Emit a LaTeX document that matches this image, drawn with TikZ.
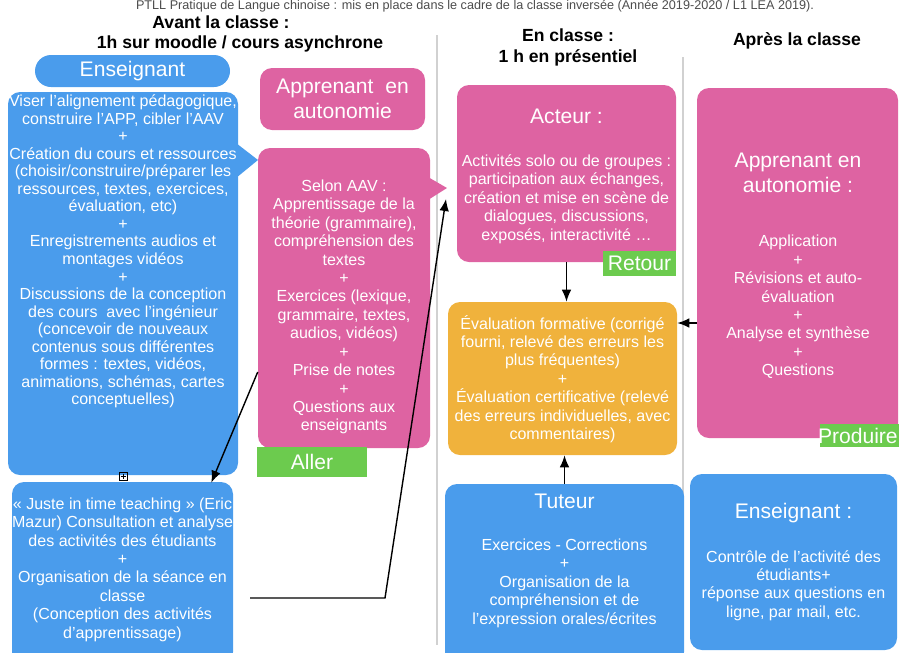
\documentclass[tikz,border=0pt]{standalone}
\usepackage{fontspec}
\setmainfont{Liberation Sans}
\usetikzlibrary{fit,calc,arrows.meta}

\definecolor{bleu}{HTML}{4A9CEC}
\definecolor{rose}{HTML}{DE63A2}
\definecolor{ocre}{HTML}{F0B23C}
\definecolor{vert}{HTML}{6CCB4E}

\tikzset{
  boite/.style={rounded corners=3mm, inner sep=0pt, draw=none},
  corps/.style={text=white, align=center, inner sep=0pt, font=\fontsize{11.4}{13.1}\selectfont},
  titre/.style={text=white, align=center, inner sep=0pt, font=\fontsize{15}{17.7}\selectfont},
  entete/.style={align=center, inner sep=0pt, font=\fontsize{12.5}{15}\selectfont\bfseries},
  onglet/.style={fill=vert, inner sep=0pt, draw=none},
  fleche/.style={-{Latex[length=3mm,width=2.4mm]}, line width=1pt},
  sep/.style={draw=black!18, line width=0.8pt}
}

\begin{document}
\begin{tikzpicture}[x=0.025cm, y=-0.025cm]
\useasboundingbox (0,0) rectangle (899,652);

% legende
\node[anchor=base, inner sep=0pt, text=black!70, font=\fontsize{9}{10}\selectfont] (legende) at (475,9.5)
  {PTLL Pratique de Langue chinoise : mis en place dans le cadre de la classe inversée (Année 2019-2020 / L1 LEA 2019).};

% en-tetes
\node[entete] (avant) at (221,22) {Avant la classe :};
\node[entete] (moodle) at (240,44) {1h sur moodle / cours asynchrone};
\node[entete] (enclasse) at (568,47.5) {En classe :\\1 h en présentiel};
\node[entete] (apres) at (797,41) {Après la classe};

% separateurs
\draw[sep] (437,35) -- (437,645);
\draw[sep] (683,57) -- (683,645);

% avant la classe : enseignant
\node[boite, fill=bleu, rounded corners=4mm, fit={(35,55) (230,87)}] (ens) {};
\node[titre] (ens-t) at (ens) {Enseignant};
\node[boite, fill=bleu, fit={(8,92) (238,475)}] (prep) {};
\fill[bleu] (236,143) -- (258,160) -- (236,178) -- cycle;
\node[corps, font=\fontsize{11.4}{12.45}\selectfont] (prep-t) at (123,251.5)
  {Viser l’alignement pédagogique,\\construire l’APP, cibler l’AAV\\+\\Création du cours et ressources\\(choisir/construire/préparer les\\ressources, textes, exercices,\\évaluation, etc)\\+\\Enregistrements audios et\\montages vidéos\\+\\Discussions de la conception\\des cours\ \ avec l’ingénieur\\(concevoir de nouveaux\\contenus sous différentes\\formes : textes, vidéos,\\animations, schémas, cartes\\conceptuelles)};
\draw[line width=0.4pt] (119,472) rectangle (127,480) (123,473.5) -- (123,478.5) (120.5,476) -- (125.5,476);

\node[boite, fill=bleu, fit={(12,482) (233,664)}] (jitt) {};
\node[corps] (jitt-t) at (122.5,569.5)
  {« Juste in time teaching » (Eric\\Mazur) Consultation et analyse\\des activités des étudiants\\+\\Organisation de la séance en\\classe\\(Conception des activités\\d’apprentissage)};

% avant la classe : apprenant
\node[boite, fill=rose, fit={(260,68) (425,130)}] (app1) {};
\node[titre] (app1-t) at (app1) {Apprenant\ \ en\\autonomie};
\node[boite, fill=rose, fit={(258,148) (430,448)}] (app2) {};
\fill[rose] (428,177) -- (447,188) -- (428,200) -- cycle;
\coordinate (ptr2) at (446,199);
\node[corps] (app2-t) at (344,307)
  {Selon AAV :\\Apprentissage de la\\théorie (grammaire),\\compréhension des\\textes\\+\\Exercices (lexique,\\grammaire, textes,\\audios, vidéos)\\+\\Prise de notes\\+\\Questions aux\\enseignants};
\node[onglet, fit={(257,447) (367,477)}] (aller) {};
\node[titre] (aller-t) at (aller) {Aller};

% en classe
\node[boite, fill=rose, fit={(457,85) (676,262)}] (acteur) {};
\node[titre] (acteur-t) at (566.5,116) {Acteur :};
\node[corps] (acteur-c) at (566.5,199)
  {Activités solo ou de groupes :\\participation aux échanges,\\création et mise en scène de\\dialogues, discussions,\\exposés, interactivité …};
\node[onglet, fit={(603,251) (676,276)}] (retour) {};
\node[titre] (retour-t) at (retour) {Retour};

\node[boite, fill=ocre, fit={(448,302) (677,455)}] (eval) {};
\node[corps] (eval-t) at (562.5,379)
  {Évaluation formative (corrigé\\fourni, relevé des erreurs les\\plus fréquentes)\\+\\Évaluation certificative (relevé\\des erreurs individuelles, avec\\commentaires)};

\node[boite, fill=bleu, fit={(445,484) (684,664)}] (tuteur) {};
\node[titre] (tuteur-t) at (564.5,501) {Tuteur};
\node[corps] (tuteur-c) at (564.5,583)
  {Exercices - Corrections\\+\\Organisation de la\\compréhension et de\\l’expression orales/écrites};

% apres la classe
\node[boite, fill=rose, fit={(697,88) (898,438)}] (app3) {};
\node[titre] (app3-t) at (798,172.5) {Apprenant en\\autonomie :};
\node[corps] (app3-c) at (798,307)
  {Application\\+\\Révisions et auto-\\évaluation\\+\\Analyse et synthèse\\+\\Questions};
\node[onglet, fit={(820,424) (905,447)}] (produire) {};
\node[titre, anchor=east] (produire-t) at (898,435.5) {Produire};

\node[boite, fill=bleu, fit={(690,474) (897,650)}] (ens2) {};
\node[titre] (ens2-t) at (793.5,513) {Enseignant :};
\node[corps] (ens2-c) at (793.5,585.5)
  {Contrôle de l’activité des\\étudiants+\\réponse aux questions en\\ligne, par mail, etc.};

% connecteurs
\draw[fleche] (app2.west |- 0,372) -- ($(jitt.north east)+(-22,1)$);
\coordinate (depart) at (250,598);
\draw[fleche] (depart) -- (385,598) -- (ptr2);
\draw[fleche] (acteur.south) -- (acteur.south |- eval.north);
\draw[fleche] (tuteur.north) -- (tuteur.north |- eval.south);
\draw[fleche] (app3.west |- 0,323) -- (eval.east |- 0,323);

\end{tikzpicture}
\end{document}
